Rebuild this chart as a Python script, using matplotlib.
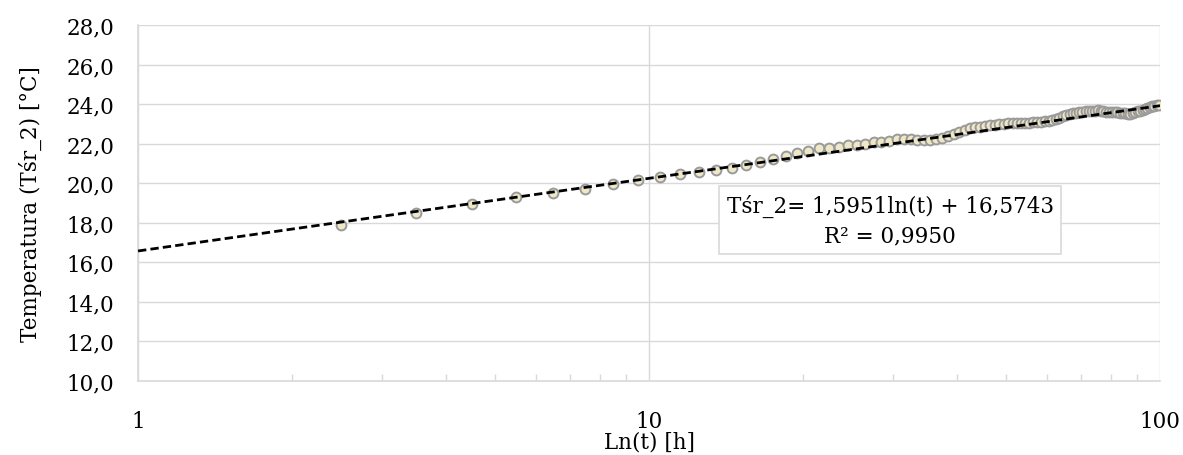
import numpy as np
import matplotlib
matplotlib.use("Agg")
import matplotlib.pyplot as plt
from matplotlib.ticker import FuncFormatter, LogLocator, FixedLocator

# ===== DATA =====
# hourly readings (hours from start)
t_hours = np.arange(2.5, 100.0, 1.0)
T_sr2 = [
    17.87, 18.47, 18.94, 19.30, 19.49, 19.71, 19.95, 20.15, 20.30, 20.45,
    20.57, 20.69, 20.77, 20.90, 21.06, 21.24, 21.39, 21.51, 21.63, 21.76,
    21.80, 21.85, 21.91, 21.95, 22.00, 22.06, 22.10, 22.15, 22.22, 22.24,
    22.22, 22.20, 22.18, 22.20, 22.24, 22.30, 22.38, 22.48, 22.60, 22.70,
    22.78, 22.82, 22.86, 22.89, 22.92, 22.95, 22.98, 23.00, 23.02, 23.03,
    23.05, 23.04, 23.03, 23.05, 23.07, 23.09, 23.11, 23.14, 23.17, 23.20,
    23.25, 23.32, 23.40, 23.46, 23.50, 23.54, 23.57, 23.60, 23.62, 23.63,
    23.64, 23.65, 23.66, 23.68, 23.66, 23.64, 23.62, 23.60, 23.60, 23.59,
    23.58, 23.57, 23.56, 23.55, 23.52, 23.50, 23.55, 23.60, 23.63, 23.66,
    23.70, 23.75, 23.80, 23.85, 23.88, 23.92, 23.95, 23.96,
]

# log trendline from the chart: T = a*ln(t) + b
TREND_A = 1.5951
TREND_B = 16.5743
TREND_R2 = 0.9950

Y_TICKS = [10, 12, 14, 16, 18, 20, 22, 24, 26, 28]
X_TICKS = [1, 10, 100]

FONT = "DejaVu Serif"
GRID = "#d9d9d9"
FS = 15.5


def comma(v, _pos=None):
    return f"{v:.1f}".replace(".", ",")


fig = plt.figure(figsize=(11.83, 4.56), dpi=100)
ax = fig.add_axes([0.1167, 0.1623, 0.8639, 0.7807])

ax.set_xscale("log")
ax.set_xlim(1, 100)
ax.set_ylim(10, 28)

# trendline over the whole axis
t_line = np.logspace(0, 2, 200)
ax.plot(t_line, TREND_A * np.log(t_line) + TREND_B, color="black",
        linestyle=(0, (3, 1.5)), linewidth=2.0, zorder=4)

ax.scatter(t_hours, T_sr2, s=50, facecolor="#eee8c6", edgecolor="#9a9a9a",
           linewidth=1.4, zorder=3)

ax.yaxis.set_major_locator(FixedLocator(Y_TICKS))
ax.yaxis.set_major_formatter(FuncFormatter(comma))
ax.xaxis.set_major_locator(FixedLocator(X_TICKS))
ax.xaxis.set_major_formatter(FuncFormatter(lambda v, p: f"{v:g}"))
ax.xaxis.set_minor_locator(LogLocator(base=10, subs=np.arange(2, 10)))
ax.xaxis.set_minor_formatter(FuncFormatter(lambda v, p: ""))

ax.grid(True, which="major", color=GRID, linewidth=1.0, zorder=0)
ax.set_axisbelow(True)
for side in ("top", "right"):
    ax.spines[side].set_visible(False)
for side in ("left", "bottom"):
    ax.spines[side].set_color(GRID)
    ax.spines[side].set_linewidth(1.2)

ax.tick_params(axis="y", which="major", length=0, pad=17, labelsize=FS)
ax.tick_params(axis="x", which="major", length=0, pad=21, labelsize=FS)
ax.tick_params(axis="x", which="minor", direction="in", length=5,
               color=GRID, width=1.0)
for lab in ax.get_xticklabels() + ax.get_yticklabels():
    lab.set_fontfamily(FONT)

ax.set_ylabel("Temperatura (Tśr_2) [°C]", fontsize=FS, family=FONT, labelpad=18)
ax.set_xlabel("Ln(t) [h]", fontsize=FS, family=FONT, labelpad=-1)

eq = (f"Tśr_2= {TREND_A:.4f}ln(t) + {TREND_B:.4f}".replace(".", ",")
      + "\n" + f"R² = {TREND_R2:.4f}".replace(".", ","))
ax.text(0.736, 0.452, eq, transform=ax.transAxes, ha="center", va="center",
        multialignment="center", fontsize=FS, family=FONT, linespacing=1.45,
        bbox=dict(boxstyle="square,pad=0.35", facecolor="white",
                  edgecolor=GRID, linewidth=1.2), zorder=5)

fig.savefig("out.png", dpi=100)
